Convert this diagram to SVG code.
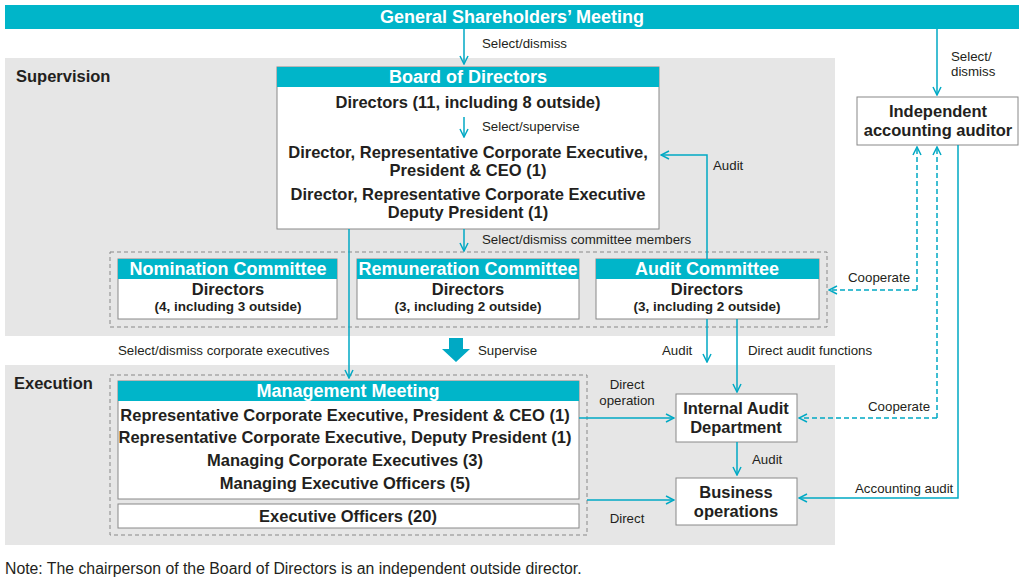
<svg xmlns="http://www.w3.org/2000/svg" width="1024" height="584" viewBox="0 0 1024 584">
<defs>
<marker id="ah" markerWidth="10" markerHeight="10" refX="9" refY="5" orient="auto" markerUnits="userSpaceOnUse"><path d="M1,1 L9,5 L1,9" fill="none" stroke="#00a9c4" stroke-width="1.5"/></marker>
<style>
text{font-family:"Liberation Sans",Arial,sans-serif;fill:#231f20}
.b{font-weight:bold;font-size:16.5px}
.h{font-weight:bold;font-size:18px;fill:#fff}
.s{font-size:13.3px}
.sb{font-size:13.5px;font-weight:bold}
.hd{fill:#00b5c9}
.bx{fill:#fff;stroke:#888;stroke-width:1}
.ln{fill:none;stroke:#00a9c4;stroke-width:1.5}
.ds{fill:none;stroke:#00a9c4;stroke-width:1.5;stroke-dasharray:5,3}
.gd{fill:none;stroke:#888;stroke-width:1;stroke-dasharray:4,3}
</style>
</defs>
<rect width="1024" height="584" fill="#fff"/>
<rect x="5" y="58" width="830" height="278" fill="#e6e6e6"/>
<rect x="5" y="365" width="830" height="180" fill="#e6e6e6"/>
<text x="16" y="82" class="b">Supervision</text>
<text x="14" y="389" class="b">Execution</text>
<g id="gsm"><rect x="5" y="5" width="1014" height="24" class="hd"/><text x="512" y="23" class="h" text-anchor="middle">General Shareholders’ Meeting</text></g>
<g id="board"><rect x="277" y="67" width="382" height="162" class="bx"/><rect x="277" y="67" width="382" height="20" class="hd"/><text x="468" y="83" class="h" text-anchor="middle">Board of Directors</text>
<g text-anchor="middle"><text x="468" y="108" class="b">Directors (11, including 8 outside)</text>
<text x="468" y="158" class="b">Director, Representative Corporate Executive,</text><text x="468" y="176" class="b">President &amp; CEO (1)</text>
<text x="468" y="200" class="b">Director, Representative Corporate Executive</text><text x="468" y="218" class="b">Deputy President (1)</text></g></g>
<rect x="110" y="252" width="717" height="75" class="gd"/>
<g id="nom"><rect x="118" y="259" width="219" height="60" class="bx"/><rect x="118" y="259" width="219" height="20" class="hd"/><text x="228" y="275" class="h" text-anchor="middle">Nomination Committee</text><text x="228" y="295" class="b" text-anchor="middle">Directors</text><text x="228" y="311" class="sb" text-anchor="middle">(4, including 3 outside)</text></g>
<g id="rem"><rect x="357" y="259" width="222" height="60" class="bx"/><rect x="357" y="259" width="222" height="20" class="hd"/><text x="468" y="275" class="h" text-anchor="middle">Remuneration Committee</text><text x="468" y="295" class="b" text-anchor="middle">Directors</text><text x="468" y="311" class="sb" text-anchor="middle">(3, including 2 outside)</text></g>
<g id="aud"><rect x="596" y="259" width="223" height="60" class="bx"/><rect x="596" y="259" width="223" height="20" class="hd"/><text x="707" y="275" class="h" text-anchor="middle">Audit Committee</text><text x="707" y="295" class="b" text-anchor="middle">Directors</text><text x="707" y="311" class="sb" text-anchor="middle">(3, including 2 outside)</text></g>
<g id="iaa"><rect x="857" y="97" width="161" height="48" class="bx"/><text x="938" y="117" class="b" text-anchor="middle">Independent</text><text x="938" y="136" class="b" text-anchor="middle">accounting auditor</text></g>
<rect x="110" y="375" width="477" height="160" class="gd"/>
<g id="mm"><rect x="118" y="381" width="461" height="118" class="bx"/><rect x="118" y="381" width="461" height="20" class="hd"/><text x="348" y="397" class="h" text-anchor="middle">Management Meeting</text>
<g text-anchor="middle"><text x="345" y="421" class="b">Representative Corporate Executive, President &amp; CEO (1)</text><text x="345" y="443" class="b">Representative Corporate Executive, Deputy President (1)</text><text x="345" y="466" class="b">Managing Corporate Executives (3)</text><text x="345" y="489" class="b">Managing Executive Officers (5)</text></g></g>
<g id="eo"><rect x="118" y="504" width="461" height="24" class="bx"/><text x="348" y="522" class="b" text-anchor="middle">Executive Officers (20)</text></g>
<g id="iad"><rect x="676" y="394" width="121" height="48" class="bx"/><text x="736" y="414" class="b" text-anchor="middle">Internal Audit</text><text x="736" y="433" class="b" text-anchor="middle">Department</text></g>
<g id="bo"><rect x="676" y="478" width="121" height="47" class="bx"/><text x="736" y="498" class="b" text-anchor="middle">Business</text><text x="736" y="517" class="b" text-anchor="middle">operations</text></g>
<g id="connectors">
<path d="M464,29 V64" class="ln" marker-end="url(#ah)"/>
<path d="M464,117 V137" class="ln" marker-end="url(#ah)"/>
<path d="M464,229 V251" class="ln" marker-end="url(#ah)"/>
<path d="M937,29 V95" class="ln" marker-end="url(#ah)"/>
<path d="M707,259 V155 H661" class="ln" marker-end="url(#ah)"/>
<path d="M349,229 V378" class="ln" marker-end="url(#ah)"/>
<path d="M707,319 V362" class="ln" marker-end="url(#ah)"/>
<path d="M737,319 V392" class="ln" marker-end="url(#ah)"/>
<path d="M737,442 V475" class="ln" marker-end="url(#ah)"/>
<path d="M579,418 H674" class="ln" marker-end="url(#ah)"/>
<path d="M587,500 H674" class="ln" marker-end="url(#ah)"/>
<path d="M958,145 V498 H799" class="ln" marker-end="url(#ah)"/>
<path d="M917,290 H829" class="ds" marker-end="url(#ah)"/><path d="M917,290 V147" class="ds" marker-end="url(#ah)"/>
<path d="M937,418 H799" class="ds" marker-end="url(#ah)"/><path d="M937,418 V147" class="ds" marker-end="url(#ah)"/>
<path d="M449,338 H463 V349 H470 L456,362 L442,349 H449 Z" fill="#00a9c4"/>
</g>
<g>
<text x="482" y="48" class="s">Select/dismiss</text>
<text x="482" y="131" class="s">Select/supervise</text>
<text x="482" y="244" class="s">Select/dismiss committee members</text>
<text x="713" y="170" class="s">Audit</text>
<text x="951" y="61" class="s">Select/</text><text x="951" y="76" class="s">dismiss</text>
<text x="848" y="282" class="s">Cooperate</text>
<text x="868" y="411" class="s">Cooperate</text>
<text x="855" y="493" class="s">Accounting audit</text>
<text x="118" y="355" class="s">Select/dismiss corporate executives</text>
<text x="478" y="355" class="s">Supervise</text>
<text x="662" y="355" class="s">Audit</text>
<text x="748" y="355" class="s">Direct audit functions</text>
<text x="752" y="464" class="s">Audit</text>
<text x="627" y="389" class="s" text-anchor="middle">Direct</text><text x="627" y="405" class="s" text-anchor="middle">operation</text>
<text x="627" y="523" class="s" text-anchor="middle">Direct</text>
</g>
<text x="5" y="574" style="font-size:15.8px">Note: The chairperson of the Board of Directors is an independent outside director.</text>
</svg>
